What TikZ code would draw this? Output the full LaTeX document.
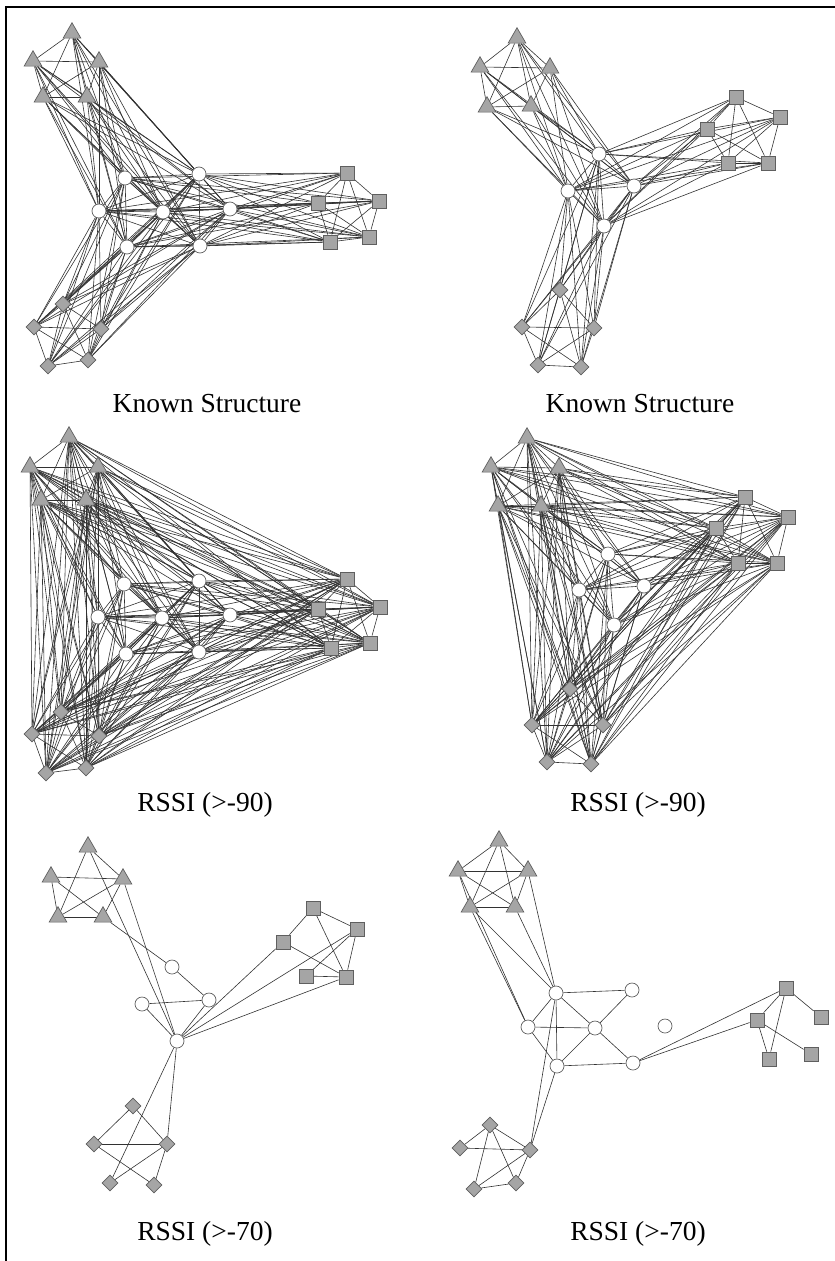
\documentclass[tikz,border=0pt]{standalone}
\usepackage{fontspec}
\setmainfont{Liberation Serif}
\usetikzlibrary{shapes.geometric,backgrounds}
\definecolor{nodefill}{RGB}{165,165,165}
\definecolor{nodedraw}{RGB}{95,95,95}
\definecolor{edgecol}{RGB}{50,50,50}
\tikzset{
  edge/.style={draw=edgecol,line width=0.6pt},
  tri/.style={regular polygon,regular polygon sides=3,minimum size=20.5pt,inner sep=0pt,fill=nodefill,draw=nodedraw,line width=0.7pt},
  sq/.style={rectangle,minimum size=14pt,inner sep=0pt,fill=nodefill,draw=nodedraw,line width=0.7pt},
  dia/.style={diamond,minimum width=16pt,minimum height=16pt,inner sep=0pt,fill=nodefill,draw=nodedraw,line width=0.7pt},
  circ/.style={circle,minimum size=14pt,inner sep=0pt,fill=white,draw=nodedraw,line width=0.7pt},
  lbl/.style={anchor=base,font=\fontsize{27.5}{30}\selectfont},
}
\newcommand{\mkclique}[1]{%
  \foreach \u [count=\i] in {#1}{%
    \foreach \v [count=\j] in {#1}{%
      \ifnum\j>\i \draw[edge] (\u) -- (\v);\fi
    }}}
\newcommand{\mkbip}[2]{%
  \foreach \u in {#1}{\foreach \v in {#2}{\draw[edge] (\u) -- (\v);}}}
\newcommand{\mkedges}[1]{%
  \foreach \u/\v in {#1}{\draw[edge] (\u) -- (\v);}}
\begin{document}
\begin{tikzpicture}[x=1pt,y=-1pt]
\useasboundingbox (0,0) rectangle (835,1261);
\draw[line width=2pt] (6,1261) -- (6,7) -- (835,7);

% ---------- panel a ----------
\foreach \n/\x/\y in {1/72/33,2/33/61,3/99/62,4/43/97,5/87/97} \node[tri] (aT\n) at (\x,\y) {};
\foreach \n/\x/\y in {1/125/178,2/199/174,3/99/211,4/163/212,5/230/209,6/127/247,7/200/246} \node[circ] (aC\n) at (\x,\y) {};
\foreach \n/\x/\y in {1/347/173,2/318/203,3/379/201,4/330/242,5/369/237} \node[sq] (aS\n) at (\x,\y) {};
\foreach \n/\x/\y in {1/63/304,2/34/327,3/101/329,4/48/366,5/88/360} \node[dia] (aD\n) at (\x,\y) {};
% ---------- panel b ----------
\foreach \n/\x/\y in {1/517/38,2/480/67,3/550/68,4/487/107,5/531/106} \node[tri] (bT\n) at (\x,\y) {};
\foreach \n/\x/\y in {1/599/154,2/568/191,3/634/186,4/604/226} \node[circ] (bC\n) at (\x,\y) {};
\foreach \n/\x/\y in {1/736/97,2/780/117,3/707/129,4/728/163,5/768/163} \node[sq] (bS\n) at (\x,\y) {};
\foreach \n/\x/\y in {1/560/290,2/522/327,3/594/328,4/538/365,5/581/367} \node[dia] (bD\n) at (\x,\y) {};
% ---------- panel c ----------
\foreach \n/\x/\y in {1/69/437,2/30/467,3/98/467,4/41/500,5/86/500} \node[tri] (cT\n) at (\x,\y) {};
\foreach \n/\x/\y in {1/124/584,2/199/581,3/98/617,4/162/618,5/230/615,6/126/654,7/199/652} \node[circ] (cC\n) at (\x,\y) {};
\foreach \n/\x/\y in {1/347/579,2/318/609,3/380/607,4/331/648,5/370/643} \node[sq] (cS\n) at (\x,\y) {};
\foreach \n/\x/\y in {1/61/712,2/32/734,3/99/736,4/46/773,5/86/768} \node[dia] (cD\n) at (\x,\y) {};
% ---------- panel d ----------
\foreach \n/\x/\y in {1/527/438,2/491/467,3/559/468,4/498/506,5/541/506} \node[tri] (dT\n) at (\x,\y) {};
\foreach \n/\x/\y in {1/608/554,2/579/590,3/644/586,4/614/625} \node[circ] (dC\n) at (\x,\y) {};
\foreach \n/\x/\y in {1/745/497,2/788/517,3/716/528,4/738/563,5/777/563} \node[sq] (dS\n) at (\x,\y) {};
\foreach \n/\x/\y in {1/570/689,2/532/725,3/603/725,4/547/762,5/591/764} \node[dia] (dD\n) at (\x,\y) {};
% ---------- panel e ----------
\foreach \n/\x/\y in {1/88/847,2/51/877,3/123/879,4/58/917,5/103/917} \node[tri] (eT\n) at (\x,\y) {};
\foreach \n/\x/\y in {1/172/967,2/142/1004,3/209/1000,4/177/1041} \node[circ] (eC\n) at (\x,\y) {};
\foreach \n/\x/\y in {1/313/908,2/357/929,3/283/942,4/306/976,5/346/977} \node[sq] (eS\n) at (\x,\y) {};
\foreach \n/\x/\y in {1/133/1106,2/94/1144,3/167/1144,4/110/1183,5/154/1185} \node[dia] (eD\n) at (\x,\y) {};
% ---------- panel f ----------
\foreach \n/\x/\y in {1/499/841,2/458/871,3/528/871,4/470/907,5/515/907} \node[tri] (fT\n) at (\x,\y) {};
\foreach \n/\x/\y in {1/556/993,2/632/990,3/528/1027,4/595/1028,5/665/1026,6/557/1066,7/633/1063} \node[circ] (fC\n) at (\x,\y) {};
\foreach \n/\x/\y in {1/786/988,2/821/1017,3/757/1020,4/769/1059,5/811/1054} \node[sq] (fS\n) at (\x,\y) {};
\foreach \n/\x/\y in {1/490/1125,2/460/1148,3/530/1150,4/474/1189,5/516/1183} \node[dia] (fD\n) at (\x,\y) {};

% labels
\node[lbl] (la) at (207,412) {Known Structure};
\node[lbl] (lb) at (640,412) {Known Structure};
\node[lbl] (lc) at (205,811) {RSSI (>-90)};
\node[lbl] (ld) at (638,811) {RSSI (>-90)};
\node[lbl] (le) at (205,1240) {RSSI (>-70)};
\node[lbl] (lf) at (638,1240) {RSSI (>-70)};

\begin{pgfonlayer}{background}
% panel a
\mkclique{aT1,aT2,aT3,aT4,aT5}
\mkclique{aS1,aS2,aS3,aS4,aS5}
\mkclique{aD1,aD2,aD3,aD4,aD5}
\mkclique{aC1,aC2,aC3,aC4,aC5,aC6,aC7}
\mkbip{aT1,aT2,aT3,aT4,aT5,aS1,aS2,aS3,aS4,aS5,aD1,aD2,aD3,aD4,aD5}{aC1,aC2,aC3,aC4,aC5,aC6,aC7}
% panel b
\mkclique{bT1,bT2,bT3,bT4,bT5}
\mkclique{bS1,bS2,bS3,bS4,bS5}
\mkclique{bD1,bD2,bD3,bD4,bD5}
\mkclique{bC1,bC2,bC3,bC4}
\mkbip{bT1,bT2,bT3,bT4,bT5,bS1,bS2,bS3,bS4,bS5,bD1,bD2,bD3,bD4,bD5}{bC1,bC2,bC3,bC4}
% panel c
\mkclique{cT1,cT2,cT3,cT4,cT5,cC1,cC2,cC3,cC4,cC5,cC6,cC7,cS1,cS2,cS3,cS4,cS5,cD1,cD2,cD3,cD4,cD5}
% panel d
\mkclique{dT1,dT2,dT3,dT4,dT5,dC1,dC2,dC3,dC4,dS1,dS2,dS3,dS4,dS5,dD1,dD2,dD3,dD4,dD5}
% panel e
\mkedges{eT1/eT3,eT1/eT4,eT2/eT3,eT2/eT4,eT2/eT5,eT3/eT4,eT3/eT5,eT4/eT5,
  eT1/eC4,eT3/eC4,eT5/eC1,eC1/eC3,eC2/eC3,eC2/eC4,eC3/eC4,
  eC4/eS3,eC4/eS2,eC4/eS5,eS1/eS3,eS1/eS2,eS1/eS5,eS3/eS5,eS2/eS4,eS2/eS5,eS4/eS5,
  eC4/eD3,eC4/eD4,eD1/eD2,eD1/eD3,eD2/eD3,eD2/eD5,eD3/eD4,eD3/eD5}
% panel f
\mkedges{fT1/fT2,fT1/fT3,fT1/fT4,fT1/fT5,fT2/fT3,fT2/fT5,fT2/fT4,fT3/fT4,fT3/fT5,fT4/fT5,
  fT3/fC1,fT5/fC1,fT4/fC1,fT2/fC3,fT4/fC3,
  fC1/fC2,fC1/fC3,fC1/fC4,fC1/fC6,fC3/fC4,fC3/fC6,fC2/fC4,fC4/fC6,fC4/fC7,fC6/fC7,
  fC1/fD3,fC6/fD3,fC7/fS1,fC7/fS3,
  fS1/fS3,fS1/fS4,fS1/fS2,fS3/fS4,fS3/fS5,
  fD1/fD2,fD1/fD3,fD1/fD4,fD1/fD5,fD2/fD3,fD3/fD4,fD3/fD5,fD4/fD5}
\end{pgfonlayer}
\end{tikzpicture}
\end{document}
